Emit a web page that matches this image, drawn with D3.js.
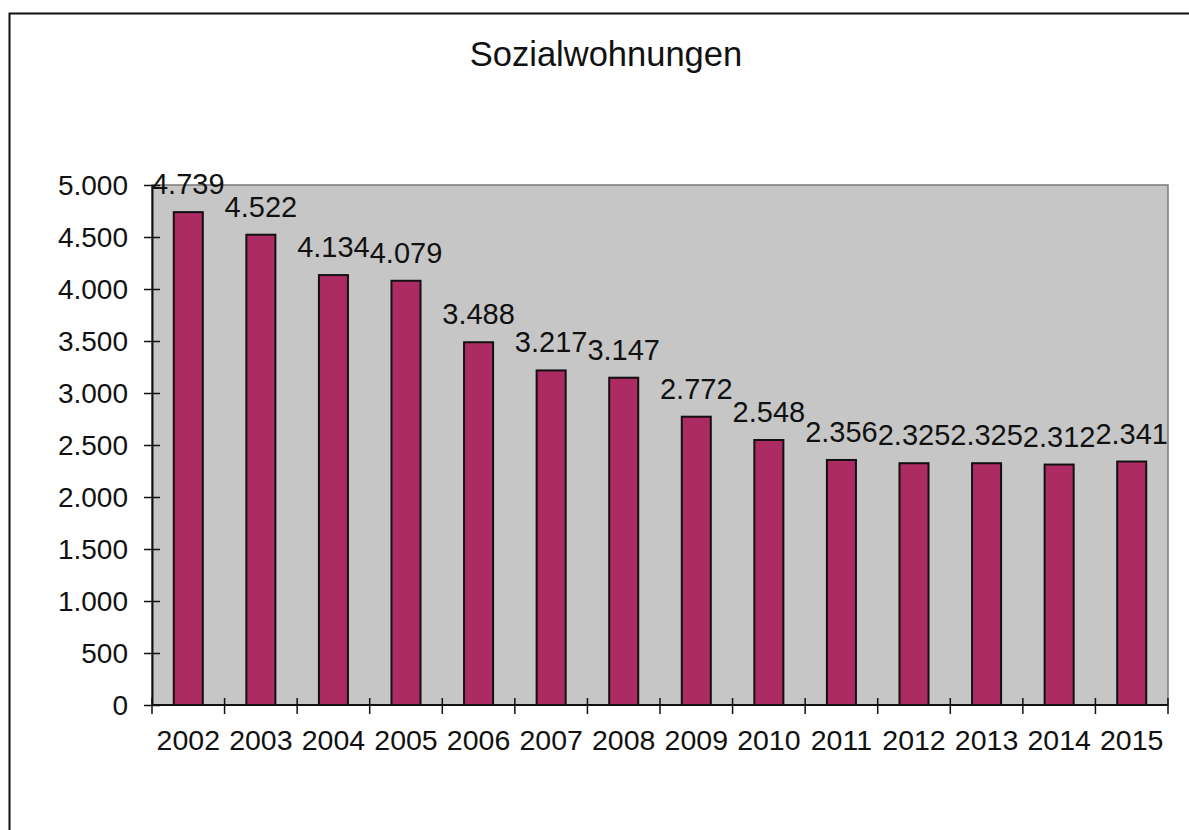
<!DOCTYPE html>
<html>
<head>
<meta charset="utf-8">
<script src="https://cdn.jsdelivr.net/npm/d3@7"></script>
<style>
  body { margin: 0; background: white; }
  svg text { font-family: "Liberation Sans", Arial, sans-serif; fill: #111; }
</style>
</head>
<body>
<div id="chart"></div>
<script>
const years = ["2002","2003","2004","2005","2006","2007","2008","2009","2010","2011","2012","2013","2014","2015"];
const values = [4739, 4522, 4134, 4079, 3488, 3217, 3147, 2772, 2548, 2356, 2325, 2325, 2312, 2341];
const yTicks = [0, 500, 1000, 1500, 2000, 2500, 3000, 3500, 4000, 4500, 5000];

const width = 1189, height = 830;
const plot = {left: 152, right: 1168, top: 185, bottom: 705};

const de = d3.formatLocale({decimal: ",", thousands: ".", grouping: [3], currency: ["", " €"]});
const fmt = de.format(",d");

const svg = d3.select("#chart")
    .append("svg")
    .attr("width", width)
    .attr("height", height);

// outer frame (only top and left edges visible)
svg.append("rect")
    .attr("x", 9.5).attr("y", 13.5)
    .attr("width", 1300).attr("height", 1000)
    .attr("fill", "white")
    .attr("stroke", "#111").attr("stroke-width", 2);

// title
svg.append("text")
    .attr("x", 606).attr("y", 66)
    .attr("text-anchor", "middle")
    .attr("font-size", "34.5px")
    .text("Sozialwohnungen");

const x = d3.scaleBand()
    .domain(years)
    .range([plot.left, plot.right])
    .paddingInner(0.6)
    .paddingOuter(0.3);

const y = d3.scaleLinear()
    .domain([0, 5000])
    .range([plot.bottom, plot.top]);

// plot area
svg.append("rect")
    .attr("x", plot.left).attr("y", plot.top)
    .attr("width", plot.right - plot.left)
    .attr("height", plot.bottom - plot.top)
    .attr("fill", "#c6c6c6")
    .attr("stroke", "#7a7a7a").attr("stroke-width", 1.5);

// bars
svg.selectAll("rect.bar")
    .data(values)
    .enter()
    .append("rect")
    .attr("class", "bar")
    .attr("x", (d, i) => x(years[i]))
    .attr("y", d => y(d))
    .attr("width", x.bandwidth())
    .attr("height", d => y(0) - y(d))
    .attr("fill", "#ad2b63")
    .attr("stroke", "#111")
    .attr("stroke-width", 2);

// data labels
svg.selectAll("text.val")
    .data(values)
    .enter()
    .append("text")
    .attr("class", "val")
    .attr("x", (d, i) => x(years[i]) + x.bandwidth() / 2)
    .attr("y", d => y(d) - 18)
    .attr("text-anchor", "middle")
    .attr("font-size", "29px")
    .text(d => fmt(d));

// y axis
const yAxis = svg.append("g")
    .attr("transform", `translate(${plot.left},0)`)
    .call(d3.axisLeft(y).tickValues(yTicks).tickFormat(fmt).tickSizeOuter(0).tickSizeInner(8).tickPadding(16));
yAxis.select(".domain").attr("stroke", "#111").attr("stroke-width", 2);
yAxis.selectAll(".tick line").attr("stroke", "#111").attr("stroke-width", 1.5).attr("x2", 8).attr("x1", -8);
yAxis.selectAll(".tick text")
    .attr("font-size", "28px")
    .attr("x", -24)
    .attr("dy", "0.35em")
    .attr("font-family", null);

// x axis: ticks at category boundaries
const boundaries = d3.range(years.length + 1).map(i => plot.left + i * (plot.right - plot.left) / years.length);
const xAxis = svg.append("g");
xAxis.append("line")
    .attr("x1", plot.left).attr("x2", plot.right)
    .attr("y1", plot.bottom).attr("y2", plot.bottom)
    .attr("stroke", "#111").attr("stroke-width", 2);
xAxis.selectAll("line.tick")
    .data(boundaries)
    .enter()
    .append("line")
    .attr("class", "tick")
    .attr("x1", d => d).attr("x2", d => d)
    .attr("y1", plot.bottom - 7).attr("y2", plot.bottom + 9)
    .attr("stroke", "#111").attr("stroke-width", 1.5);
xAxis.selectAll("text")
    .data(years)
    .enter()
    .append("text")
    .attr("x", d => x(d) + x.bandwidth() / 2)
    .attr("y", 750)
    .attr("text-anchor", "middle")
    .attr("font-size", "28.5px")
    .text(d => d);
</script>
</body>
</html>
